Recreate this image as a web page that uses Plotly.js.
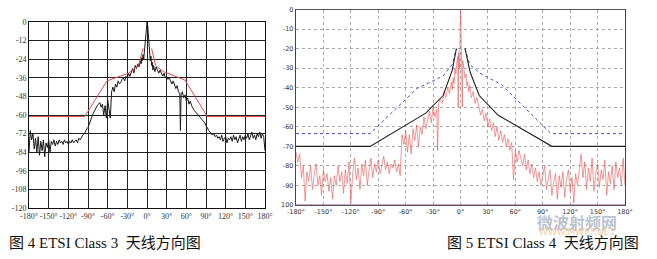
<!DOCTYPE html>
<html>
<head>
<meta charset="utf-8">
<script src="https://cdn.plot.ly/plotly-3.0.1.min.js"></script>
<style>html,body{margin:0;padding:0;background:#fff;}#chart{width:657px;height:259px;}</style>
</head>
<body>
<div id="chart"></div>
<script>
// ---------- Figure 4: ETSI Class 3 ----------
const c3MaskAngles = [-180, -95, -61, -28, -13, -6, null, 7, 13, 25, 58, 92, 180];
const c3MaskValues = [-61, -61, -38, -33, -28, -17, null, -17, -28, -32, -37.5, -61, -61];

const c3MeasAngles = [-180,-178,-176,-174,-172,-170,-168,-166,-164,-162,-160,-158,-156,-154,-152,-150,-148,-146,-144,-142,-140,-138,-136,-134,-132,-130,-128,-126,-124,-122,-120,-118,-116,-114,-112,-110,-108,-106,-104,-102,-100,-98,-96,-94,-92,-90,-88,-86,-84,-82,-80,-78,-76,-74,-72,-70,-68,-66,-64,-62,-60,-58,-56,-54,-52,-50,-48,-46,-44,-42,-40,-38,-36,-34,-32,-30,-28,-26,-24,-22,-20,-18,-16,-14,-12,-10,-9,-8,-7,-6,-5,-4,-3,-2,-1,0,1,2,3,4,5,6,7,8,9,10,12,14,16,18,20,22,24,26,28,30,32,34,36,38,40,42,44,46,48,50,51,52,54,56,58,60,62,64,66,68,70,72,74,76,78,80,82,84,86,88,90,92,94,96,98,100,102,104,106,108,110,112,114,116,118,120,122,124,126,128,130,132,134,136,138,140,142,144,146,148,150,152,154,156,158,160,162,164,166,168,170,172,174,176,178,180];
const c3MeasValues = [-84,-70,-76,-72,-82,-75,-84,-74,-86,-77,-83,-76,-87,-78,-81,-76,-84,-77,-79,-76,-80,-77,-79,-76,-78,-77,-79,-76,-78,-77,-79,-77,-78,-76,-78,-77,-76,-78,-75,-76,-74,-73,-72,-71,-69,-68,-66,-63,-61,-59,-57,-56,-54,-53,-52,-55,-53,-60,-54,-62,-50,-56,-62,-45,-42,-45,-40,-42,-38,-40,-39,-37,-36,-38,-35,-36,-33,-35,-32,-30,-33,-28,-30,-27,-29,-25,-27,-23,-25,-21,-24,-18,-12,-6,-2,0,-2,-7,-13,-20,-25,-22,-28,-26,-31,-28,-32,-29,-31,-33,-31,-33,-35,-33,-36,-35,-37,-36,-38,-40,-38,-41,-43,-41,-45,-46,-70,-47,-45,-49,-47,-51,-49,-53,-51,-54,-56,-57,-58,-59,-60,-61,-62,-63,-64,-65,-67,-68,-70,-71,-72,-73,-72,-74,-73,-75,-74,-76,-73,-77,-75,-74,-78,-75,-76,-74,-77,-73,-76,-74,-78,-75,-73,-77,-74,-76,-73,-75,-72,-76,-74,-71,-75,-73,-76,-72,-74,-71,-75,-72,-74,-83];

// ---------- Figure 5: ETSI Class 4 ----------
const c4UpperAngles = [-180, -99, -48, -19, -9, -4.5, null, 5, 10, 21, 45, 99, 180];
const c4UpperValues = [-63.5, -63.5, -40.5, -34, -28, -20, null, -20, -28, -32.5, -38.5, -63.5, -63.5];

const c4LowerAngles = [-180, -99, -38, -19, -9, -4.5, null, 5, 10.5, 20.5, 41, 100, 180];
const c4LowerValues = [-70, -70, -53, -44, -31, -20, null, -20, -32, -44, -54, -70, -70];

const c4MeasAngles = [-180,-178,-176,-174,-172,-170,-168,-166,-164,-162,-160,-158,-156,-154,-152,-150,-148,-146,-144,-142,-140,-138,-136,-134,-132,-130,-128,-126,-124,-122,-120,-118,-116,-114,-112,-110,-108,-106,-104,-102,-100,-98,-96,-94,-92,-90,-88,-86,-84,-82,-80,-78,-76,-74,-72,-70,-68,-66,-65,-64,-62,-60,-58,-56,-54,-52,-50,-48,-46,-44,-42,-40,-38,-36,-34,-32,-30,-28,-26,-25,-24,-22,-20,-18,-16,-14,-12,-10,-9,-8,-7,-6,-5,-4,-3,-2.5,-2,-1,-0.5,0,0.5,1,2,2.5,3,4,5,6,7,8,9,10,12,14,16,18,20,22,24,26,28,30,32,34,36,38,40,42,44,46,48,50,52,54,56,58,60,62,64,66,68,70,72,74,76,78,80,82,84,86,88,90,92,94,96,98,100,102,104,106,108,110,112,114,116,118,120,122,124,126,128,130,132,134,136,138,140,142,144,146,148,150,152,154,156,158,160,162,164,166,168,170,172,174,176,178,180];
const c4MeasValues = [-73,-78,-74,-86,-80,-98,-83,-88,-80,-92,-84,-79,-90,-85,-95,-82,-88,-84,-93,-86,-97,-85,-90,-80,-88,-83,-94,-82,-89,-78,-99,-84,-76,-87,-81,-92,-79,-85,-77,-90,-82,-76,-86,-79,-83,-77,-84,-80,-75,-82,-78,-84,-79,-81,-77,-83,-79,-85,-70,-64,-69,-62,-73,-64,-74,-61,-67,-59,-70,-60,-64,-55,-61,-57,-52,-58,-50,-55,-51,-72,-48,-46,-48,-42,-45,-40,-43,-37,-41,-35,-38,-30,-33,-27,-24,-50,-22,-30,-8,0,-8,-24,-50,-26,-28,-31,-35,-33,-39,-37,-42,-39,-45,-42,-48,-45,-50,-54,-51,-57,-53,-60,-56,-62,-58,-65,-60,-67,-62,-68,-64,-70,-66,-72,-68,-87,-72,-78,-72,-76,-80,-74,-82,-77,-84,-79,-86,-81,-88,-83,-90,-85,-80,-92,-86,-82,-95,-88,-84,-97,-85,-91,-83,-96,-87,-82,-93,-86,-99,-84,-90,-80,-74,-86,-78,-92,-81,-88,-76,-93,-84,-79,-91,-82,-87,-77,-95,-83,-89,-80,-92,-78,-86,-81,-90,-76,-90];

// ---------- ticks ----------
const angleTicks = [-180,-150,-120,-90,-60,-30,0,30,60,90,120,150,180];
const angleTickText = ["-180°","-150°","-120°","-90°","-60°","-30°","0°","30°","60°","90°","120°","150°","180°"];
const c3YTicks = [0,-12,-24,-36,-48,-60,-72,-84,-96,-108,-120];
const c3YTickText = ["0","-12","-24","-36","-48","-60","-72","-84","-96","-108","-120"];
const c4YTicks = [0,-10,-20,-30,-40,-50,-60,-70,-80,-90,-100];
const c4YTickText = ["0","-10","-20","-30","-40","-50","-60","-70","-80","-90","100"];

const captions = ["图 4 ETSI Class 3  天线方向图", "图 5 ETSI Class 4  天线方向图"];
const watermark = ["微波射频网", "WWW.MWRF.NET"];

const W = 657, H = 259;
const px = v => v / W;
const py = v => 1 - v / H;

const traces = [
  {x: c3MeasAngles, y: c3MeasValues, xaxis: 'x', yaxis: 'y', mode: 'lines',
   line: {color: '#1a1a1a', width: 1}, hoverinfo: 'skip'},
  {x: c3MaskAngles, y: c3MaskValues, xaxis: 'x', yaxis: 'y', mode: 'lines',
   line: {color: 'rgb(225,75,75)', width: 1}, connectgaps: false, hoverinfo: 'skip'},
  {x: c4MeasAngles, y: c4MeasValues, xaxis: 'x2', yaxis: 'y2', mode: 'lines',
   line: {color: 'rgb(238,80,80)', width: 0.7}, opacity: 0.85, hoverinfo: 'skip'},
  {x: c4UpperAngles, y: c4UpperValues, xaxis: 'x2', yaxis: 'y2', mode: 'lines',
   line: {color: 'rgb(70,70,215)', width: 1, dash: 'dot'}, connectgaps: false, hoverinfo: 'skip'},
  {x: c4LowerAngles, y: c4LowerValues, xaxis: 'x2', yaxis: 'y2', mode: 'lines',
   line: {color: '#222', width: 1.1}, connectgaps: false, hoverinfo: 'skip'}
];

const leftTickFont = {family: 'Liberation Serif, DejaVu Serif, serif', size: 8, color: '#333'};
const rightTickFont = {family: 'DejaVu Sans, Arial, sans-serif', size: 6.5, color: '#333'};

const layout = {
  width: W, height: H,
  margin: {l: 0, r: 0, t: 0, b: 0},
  paper_bgcolor: '#fff', plot_bgcolor: '#fff',
  showlegend: false,
  xaxis: {
    domain: [px(29), px(265)], anchor: 'y', range: [-180, 180],
    tickvals: angleTicks, ticktext: angleTickText, tickfont: leftTickFont,
    showgrid: true, gridcolor: '#222', gridwidth: 1, zeroline: false,
    showline: true, linecolor: '#111', linewidth: 1, mirror: true, ticks: '', ticklen: 0, tickangle: 0
  },
  yaxis: {
    domain: [1 - 208 / H, 1 - 22 / H], anchor: 'x', range: [-120, 0],
    tickvals: c3YTicks, ticktext: c3YTickText, tickfont: leftTickFont,
    showgrid: true, gridcolor: '#222', gridwidth: 1, zeroline: false,
    showline: true, linecolor: '#111', linewidth: 1, mirror: true, ticks: '', ticklen: 0
  },
  xaxis2: {
    domain: [px(296), px(625)], anchor: 'y2', range: [-180, 180],
    tickvals: angleTicks, ticktext: angleTickText, tickfont: rightTickFont,
    showgrid: true, gridcolor: '#aaa', griddash: 'dot', gridwidth: 1, zeroline: false,
    showline: true, linecolor: '#555', linewidth: 1, mirror: true, ticks: '', tickangle: 0
  },
  yaxis2: {
    domain: [1 - 205 / H, 1 - 9.5 / H], anchor: 'x2', range: [-100, 0],
    tickvals: c4YTicks, ticktext: c4YTickText, tickfont: rightTickFont,
    showgrid: true, gridcolor: '#aaa', griddash: 'dot', gridwidth: 1, zeroline: false,
    showline: true, linecolor: '#444', linewidth: 1.2, mirror: true, ticks: ''
  },
  shapes: [
    {type: 'line', xref: 'x2', yref: 'y2', x0: -180, x1: 180, y0: -100, y1: -100,
     line: {color: 'rgb(150,70,140)', width: 1}}
  ],
  annotations: [
    {text: watermark[0], xref: 'paper', yref: 'paper', x: px(577), y: py(222),
     xanchor: 'center', yanchor: 'middle', showarrow: false,
     font: {family: 'Noto Sans CJK SC, sans-serif', size: 16, color: 'rgba(175,185,200,0.85)', weight: 'bold'}},
    {text: watermark[1], xref: 'paper', yref: 'paper', x: px(577), y: py(232),
     xanchor: 'center', yanchor: 'middle', showarrow: false,
     font: {family: 'DejaVu Sans, sans-serif', size: 9, color: 'rgba(240,195,140,0.85)'}},
    {text: captions[0], xref: 'paper', yref: 'paper', x: px(7), y: py(243),
     xanchor: 'left', yanchor: 'middle', showarrow: false,
     font: {family: 'Liberation Serif, Noto Sans CJK SC, serif', size: 15, color: '#111'}},
    {text: captions[1], xref: 'paper', yref: 'paper', x: px(445), y: py(243),
     xanchor: 'left', yanchor: 'middle', showarrow: false,
     font: {family: 'Liberation Serif, Noto Sans CJK SC, serif', size: 15, color: '#111'}}
  ]
};

Plotly.newPlot('chart', traces, layout, {staticPlot: true, displayModeBar: false});
</script>
</body>
</html>
